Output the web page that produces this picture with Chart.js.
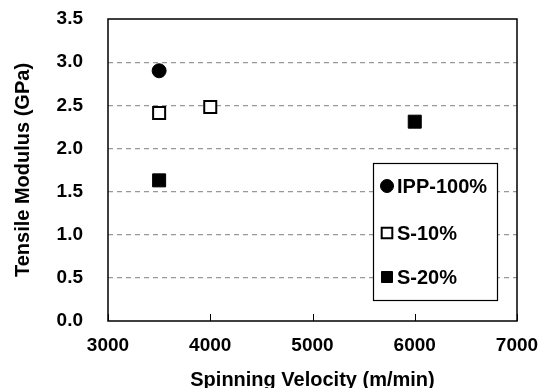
<!DOCTYPE html>
<html>
<head>
<meta charset="utf-8">
<script src="https://cdn.jsdelivr.net/npm/chart.js@4.4.1/dist/chart.umd.min.js"></script>
<style>
  html, body { margin: 0; padding: 0; background: #fff; }
  #wrap { width: 542px; height: 388px; }
</style>
</head>
<body>
<div id="wrap"><canvas id="modulusChart" width="542" height="388"></canvas></div>
<script>
// --- Data ---
const seriesNames = ['IPP-100%', 'S-10%', 'S-20%'];
const ippVelocity = [3500];
const ippModulus = [2.9];
const s10Velocity = [3500, 4000];
const s10Modulus = [2.41, 2.48];
const s20Velocity = [3500, 6000];
const s20Modulus = [1.63, 2.31];

const toPoints = (xs, ys) => xs.map((x, i) => ({ x: x, y: ys[i] }));

const FONT = 'Liberation Sans, Arial, sans-serif';

// marker styles per series (used by the chart and the legend box)
const markerStyles = [
  { pointStyle: 'circle', pointRadius: 7, backgroundColor: '#000', borderColor: '#000', borderWidth: 1, legendRadius: 6.5 },
  { pointStyle: 'rect', pointRadius: 8.5, backgroundColor: '#fff', borderColor: '#000', borderWidth: 2, legendRadius: 7.5 },
  { pointStyle: 'rect', pointRadius: 9.2, backgroundColor: '#000', borderColor: '#000', borderWidth: 1, legendRadius: 7.8 }
];

// frame around the plot + inward ticks on the x axis
const framePlugin = {
  id: 'frame',
  afterDatasetsDraw(chart) {
    const { ctx, chartArea: a, scales } = chart;
    ctx.save();
    ctx.strokeStyle = '#000';
    ctx.lineWidth = 1.5;
    ctx.strokeRect(a.left, a.top, a.right - a.left, a.bottom - a.top);
    ctx.lineWidth = 1;
    scales.x.ticks.forEach(t => {
      const px = Math.round(scales.x.getPixelForValue(t.value)) + 0.5;
      ctx.beginPath();
      ctx.moveTo(px, a.bottom);
      ctx.lineTo(px, a.bottom - 7);
      ctx.stroke();
    });
    ctx.restore();
  }
};

// legend box drawn inside the plot area, lower right
const boxLegendPlugin = {
  id: 'boxLegend',
  afterDraw(chart) {
    const { ctx, chartArea: a } = chart;
    const left = a.right - 144, top = a.top + 144, w = 124, h = 137;
    ctx.save();
    ctx.fillStyle = '#fff';
    ctx.fillRect(left, top, w, h);
    ctx.strokeStyle = '#000';
    ctx.lineWidth = 1.2;
    ctx.strokeRect(left + 0.5, top + 0.5, w, h);
    ctx.font = 'bold 20px ' + FONT;
    ctx.textBaseline = 'middle';
    ctx.textAlign = 'left';
    const rows = [23, 70, 114];
    chart.data.datasets.forEach((ds, i) => {
      const st = markerStyles[i];
      const cy = top + rows[i];
      ctx.fillStyle = st.backgroundColor;
      ctx.strokeStyle = st.borderColor;
      ctx.lineWidth = st.borderWidth;
      Chart.helpers.drawPoint(ctx, { pointStyle: st.pointStyle, radius: st.legendRadius, rotation: 0, borderWidth: st.borderWidth }, left + 14, cy);
      ctx.fillStyle = '#000';
      ctx.fillText(ds.label, left + 24, cy + 1);
    });
    ctx.restore();
  }
};

const noOverflow = s => { s.paddingTop = 0; s.paddingBottom = 0; s.paddingLeft = 0; s.paddingRight = 0; };

const ctx = document.getElementById('modulusChart').getContext('2d');
new Chart(ctx, {
  type: 'scatter',
  data: {
    datasets: [
      Object.assign({ label: seriesNames[0], data: toPoints(ippVelocity, ippModulus) }, markerStyles[0]),
      Object.assign({ label: seriesNames[1], data: toPoints(s10Velocity, s10Modulus) }, markerStyles[1]),
      Object.assign({ label: seriesNames[2], data: toPoints(s20Velocity, s20Modulus) }, markerStyles[2])
    ]
  },
  options: {
    responsive: false,
    animation: false,
    layout: { padding: { top: 19, right: 25, left: 0, bottom: 0 } },
    plugins: { legend: { display: false }, tooltip: { enabled: false } },
    scales: {
      x: {
        type: 'linear', min: 3000, max: 7000,
        ticks: { stepSize: 1000, color: '#000', padding: 13, maxRotation: 0, font: { family: FONT, size: 19, weight: 'bold' }, callback: v => String(v) },
        grid: { drawOnChartArea: false, drawTicks: false },
        border: { display: false },
        title: { display: true, text: 'Spinning Velocity (m/min)', color: '#000', font: { family: FONT, size: 20, weight: 'bold', lineHeight: 0.8 }, padding: 0 },
        afterFit: s => { s.height = 67; noOverflow(s); }
      },
      y: {
        type: 'linear', min: 0, max: 3.5,
        ticks: { stepSize: 0.5, color: '#000', padding: 25, font: { family: FONT, size: 19, weight: 'bold' }, callback: v => v.toFixed(1) },
        grid: {
          drawTicks: false,
          color: c => (c.tick.value > 0 && c.tick.value < 3.5) ? '#999' : 'rgba(0,0,0,0)',
          lineWidth: 1.2
        },
        border: { display: false, dash: [5, 4] },
        title: { display: true, text: 'Tensile Modulus (GPa)', color: '#000', font: { family: FONT, size: 20, weight: 'bold', lineHeight: 1.2 }, padding: { top: 11, bottom: 0 } },
        afterFit: s => { s.width = 108; noOverflow(s); }
      }
    }
  },
  plugins: [framePlugin, boxLegendPlugin]
});
</script>
</body>
</html>
